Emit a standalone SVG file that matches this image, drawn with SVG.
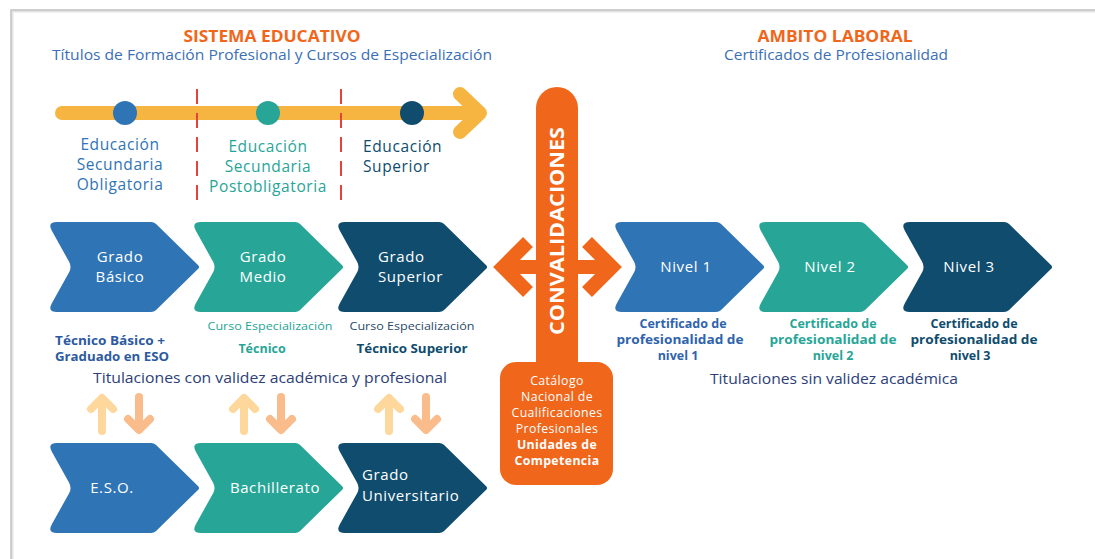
<svg xmlns="http://www.w3.org/2000/svg" xmlns:xlink="http://www.w3.org/1999/xlink" width="1095" height="559" viewBox="0 0 1095 559">
<style>
text{font-family:"Open Sans","Liberation Sans",sans-serif;}
.h{font-size:16px;font-weight:700;fill:#f0661a;text-anchor:middle;}
.sub{font-size:14px;fill:#3b6fb6;text-anchor:middle;}
.tl{font-size:15.5px;letter-spacing:0.6px;}
.ct{font-size:15px;fill:#ffffff;letter-spacing:0.6px;}
.mid{text-anchor:middle;}
.b{font-weight:700;}
.lab{font-size:12.5px;font-weight:700;text-anchor:middle;}
.cur{font-size:11.5px;text-anchor:middle;}
.tit{font-size:14.5px;fill:#2d3e78;text-anchor:middle;}
.cat{font-size:12.3px;fill:#ffffff;text-anchor:middle;letter-spacing:0.4px;}
.blue{fill:#2f74b5;}
.teal{fill:#27a597;}
.navy{fill:#0f4c6e;}
.up{stroke:#fdd79b;}
.dn{stroke:#f9bc8a;}
.ud{fill:none;stroke-width:8;stroke-linecap:round;stroke-linejoin:round;}
.dash{stroke:#e8423a;stroke-width:2;stroke-dasharray:15 9;}
</style>
<defs>
<path id="chev" d="M 10,0 L 104,0 Q 107,0 109.1,2.1 L 151.2,43.25 Q 153,45 151.2,46.75 L 109.1,87.9 Q 107,90 104,90 L 10,90 Q 0,90 4.85,81.3 L 22.1,50.2 Q 25,45 22.1,39.8 L 4.85,8.74 Q 0,0 10,0 Z"/>
</defs>
<rect width="1095" height="559" fill="#ffffff"/>
<g id="frame" fill="none">
<path d="M 12,559 L 12,11 L 1095,11" stroke="#e4e4e4" stroke-width="3"/>
<path d="M 11,559 L 11,10 L 1095,10" stroke="#c4c4c4" stroke-width="1.5"/>
</g>
<g id="headers">
<text x="272" y="42" class="h" textLength="177" lengthAdjust="spacingAndGlyphs">SISTEMA EDUCATIVO</text>
<text x="272" y="60" class="sub" textLength="440" lengthAdjust="spacingAndGlyphs">Títulos de Formación Profesional y Cursos de Especialización</text>
<text x="835" y="42" class="h" textLength="155" lengthAdjust="spacingAndGlyphs">AMBITO LABORAL</text>
<text x="836" y="60" class="sub" textLength="224" lengthAdjust="spacingAndGlyphs">Certificados de Profesionalidad</text>
</g>
<g id="timeline">
<line x1="62" y1="113" x2="472" y2="113" stroke="#f6b540" stroke-width="14" stroke-linecap="round"/>
<polyline points="460,94 480,113 460,132" fill="none" stroke="#f6b540" stroke-width="14" stroke-linecap="round" stroke-linejoin="round"/>
<line x1="197" y1="89" x2="197" y2="206" class="dash"/>
<line x1="341" y1="89" x2="341" y2="206" class="dash"/>
<circle cx="125" cy="113" r="12" fill="#2f74b5"/>
<circle cx="268" cy="113" r="12" fill="#27a597"/>
<circle cx="412" cy="113" r="12" fill="#0f4c6e"/>
<text class="tl mid blue" x="120" y="150">Educación</text>
<text class="tl mid blue" x="120" y="170">Secundaria</text>
<text class="tl mid blue" x="120" y="190">Obligatoria</text>
<text class="tl mid teal" x="268" y="152">Educación</text>
<text class="tl mid teal" x="268" y="172">Secundaria</text>
<text class="tl mid teal" x="268" y="192">Postobligatoria</text>
<text class="tl navy" x="363" y="152">Educación</text>
<text class="tl navy" x="363" y="172">Superior</text>
</g>
<g id="grado-basico">
<use xlink:href="#chev" x="47" y="222" fill="#2f74b5"/>
<text class="ct mid" x="120" y="262">Grado</text>
<text class="ct mid" x="120" y="282">Básico</text>
</g>
<g id="grado-medio">
<use xlink:href="#chev" x="191" y="222" fill="#27a597"/>
<text class="ct mid" x="263" y="262">Grado</text>
<text class="ct mid" x="263" y="282">Medio</text>
</g>
<g id="grado-superior">
<use xlink:href="#chev" x="335" y="222" fill="#0f4c6e"/>
<text class="ct" x="378" y="262">Grado</text>
<text class="ct" x="378" y="282">Superior</text>
</g>
<g id="labels-educativo">
<text class="lab" x="55" y="345" style="text-anchor:start;fill:#2c5aa0" textLength="110" lengthAdjust="spacingAndGlyphs">Técnico Básico +</text>
<text class="lab" x="55" y="361" style="text-anchor:start;fill:#2c5aa0" textLength="114" lengthAdjust="spacingAndGlyphs">Graduado en ESO</text>
<text class="cur teal" x="270" y="330" textLength="125" lengthAdjust="spacingAndGlyphs">Curso Especialización</text>
<text class="lab teal" x="262" y="353">Técnico</text>
<text class="cur" x="412" y="330" fill="#2a4a6a" textLength="125" lengthAdjust="spacingAndGlyphs">Curso Especialización</text>
<text class="lab navy" x="412" y="353" textLength="111" lengthAdjust="spacingAndGlyphs">Técnico Superior</text>
<text class="tit" x="270" y="383" textLength="354" lengthAdjust="spacingAndGlyphs">Titulaciones con validez académica y profesional</text>
</g>
<g id="connectors">
<g class="ud up">
<line x1="102" y1="431" x2="102" y2="399"/><polyline points="91,409 102,398 113,409"/>
<line x1="244" y1="431" x2="244" y2="399"/><polyline points="233,409 244,398 255,409"/>
<line x1="389" y1="431" x2="389" y2="399"/><polyline points="378,409 389,398 400,409"/>
</g>
<g class="ud dn">
<line x1="139" y1="397" x2="139" y2="429"/><polyline points="128,419 139,430 150,419"/>
<line x1="281" y1="397" x2="281" y2="429"/><polyline points="270,419 281,430 292,419"/>
<line x1="426" y1="397" x2="426" y2="429"/><polyline points="415,419 426,430 437,419"/>
</g>
</g>
<g id="eso">
<use xlink:href="#chev" x="47" y="443" fill="#2f74b5"/>
<text class="ct mid" x="112" y="493">E.S.O.</text>
</g>
<g id="bachillerato">
<use xlink:href="#chev" x="191" y="443" fill="#27a597"/>
<text class="ct mid" x="275" y="493">Bachillerato</text>
</g>
<g id="grado-universitario">
<use xlink:href="#chev" x="335" y="443" fill="#0f4c6e"/>
<text class="ct" x="362" y="480">Grado</text>
<text class="ct" x="362" y="501">Universitario</text>
</g>
<g id="convalidaciones">
<line x1="502" y1="267" x2="612" y2="267" stroke="#f0661a" stroke-width="14"/>
<polyline points="528,242 503,267 528,292" fill="none" stroke="#f0661a" stroke-width="14" stroke-linejoin="miter"/>
<polyline points="587,242 612,267 587,292" fill="none" stroke="#f0661a" stroke-width="14" stroke-linejoin="miter"/>
<rect x="536" y="87" width="42" height="300" rx="21" fill="#f0661a"/>
<text transform="translate(564,231) rotate(-90)" font-size="20" font-weight="700" fill="#ffffff" text-anchor="middle" textLength="208" lengthAdjust="spacingAndGlyphs">CONVALIDACIONES</text>
</g>
<g id="catalogo">
<rect x="500" y="362" width="113" height="123" rx="16" fill="#f0661a"/>
<text class="cat" x="557" y="385">Catálogo</text>
<text class="cat" x="557" y="401">Nacional de</text>
<text class="cat" x="557" y="417">Cualificaciones</text>
<text class="cat" x="557" y="433">Profesionales</text>
<text class="cat b" x="557" y="449">Unidades de</text>
<text class="cat b" x="557" y="465">Competencia</text>
</g>
<g id="nivel-1">
<use xlink:href="#chev" x="612" y="222" fill="#2f74b5"/>
<text class="ct mid" x="686" y="272">Nivel 1</text>
</g>
<g id="nivel-2">
<use xlink:href="#chev" x="756" y="222" fill="#27a597"/>
<text class="ct mid" x="830" y="272">Nivel 2</text>
</g>
<g id="nivel-3">
<use xlink:href="#chev" x="900" y="222" fill="#0f4c6e"/>
<text class="ct mid" x="969" y="272">Nivel 3</text>
</g>
<g id="labels-laboral">
<text class="lab" x="683" y="328" fill="#2f63ad">Certificado de</text>
<text class="lab" x="680" y="344" fill="#2f63ad" textLength="127" lengthAdjust="spacingAndGlyphs">profesionalidad de</text>
<text class="lab" x="678" y="360" fill="#2f63ad">nivel 1</text>
<text class="lab teal" x="833" y="328">Certificado de</text>
<text class="lab teal" x="833" y="344" textLength="127" lengthAdjust="spacingAndGlyphs">profesionalidad de</text>
<text class="lab teal" x="833" y="360">nivel 2</text>
<text class="lab navy" x="974" y="328">Certificado de</text>
<text class="lab navy" x="974" y="344" textLength="127" lengthAdjust="spacingAndGlyphs">profesionalidad de</text>
<text class="lab navy" x="970" y="360">nivel 3</text>
<text class="tit" x="834" y="384" textLength="248" lengthAdjust="spacingAndGlyphs">Titulaciones sin validez académica</text>
</g>
</svg>
